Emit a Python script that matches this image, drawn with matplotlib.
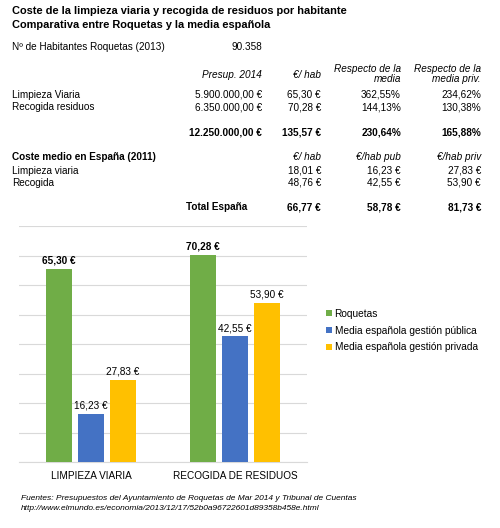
import numpy as np
import matplotlib.pyplot as plt

plt.rcParams['font.family'] = ['Liberation Sans', 'DejaVu Sans']

# chart data
categorias = ["LIMPIEZA VIARIA", "RECOGIDA DE RESIDUOS"]
series = ["Roquetas", "Media española gestión pública", "Media española gestión privada"]
roquetas = [65.30, 70.28]
media_pub = [16.23, 42.55]
media_priv = [27.83, 53.90]
colores = ["#70AD47", "#4472C4", "#FFC000"]

# table data
habitantes = "90.358"
cab_roq = ["Presup. 2014", "€/ hab", "Respecto de la\nmedia", "Respecto de la\nmedia priv."]
filas_roq = ["Limpieza Viaria", "Recogida residuos"]
presup = ["5.900.000,00 €", "6.350.000,00 €"]
hab = ["65,30 €", "70,28 €"]
resp_media = ["362,55%", "144,13%"]
resp_priv = ["234,62%", "130,38%"]
total_roq = ["12.250.000,00 €", "135,57 €", "230,64%", "165,88%"]
cab_esp = ["€/ hab", "€/hab pub", "€/hab priv"]
filas_esp = ["Limpieza viaria", "Recogida"]
esp_hab = ["18,01 €", "48,76 €"]
esp_pub = ["16,23 €", "42,55 €"]
esp_priv = ["27,83 €", "53,90 €"]
total_esp = ["66,77 €", "58,78 €", "81,73 €"]

W, H = 500, 528
FS = 7.2
fig = plt.figure(figsize=(W / 100, H / 100), dpi=100)


def t(x, y, s, **kw):
    # y = vertical centre of capitals in pixels from top; drawn on baseline
    kw.setdefault('fontsize', FS)
    kw.setdefault('va', 'baseline')
    fig.text(x / W, 1 - (y + 3.5) / H, s, **kw)


t(12, 10, "Coste de la limpieza viaria y recogida de residuos por habitante", fontweight='bold', fontsize=7.9)
t(12, 24, "Comparativa entre Roquetas y la media española", fontweight='bold', fontsize=7.9)
t(12, 46, "Nº de Habitantes Roquetas (2013)")
t(262, 46, habitantes, ha='right')

cols = [262, 321, 401, 481]
t(cols[0], 74, cab_roq[0], ha='right', style='italic')
t(cols[1], 74, cab_roq[1], ha='right', style='italic')
for x, s in zip(cols[2:], cab_roq[2:]):
    l1, l2 = s.split("\n")
    t(x, 69, l1, ha='right', style='italic')
    t(x, 79, l2, ha='right', style='italic')
for i, y in enumerate([94, 107]):
    t(12, y, filas_roq[i])
    for x, s in zip(cols, [presup[i], hab[i], resp_media[i], resp_priv[i]]):
        t(x, y, s, ha='right')
for x, s in zip(cols, total_roq):
    t(x, 132, s, ha='right', fontweight='bold')

t(12, 157, "Coste medio en España (2011)", fontweight='bold')
for x, s in zip(cols[1:], cab_esp):
    t(x, 157, s, ha='right', style='italic')
for i, y in enumerate([170, 182]):
    t(12, y, filas_esp[i])
    for x, s in zip(cols[1:], [esp_hab[i], esp_pub[i], esp_priv[i]]):
        t(x, y, s, ha='right')
t(247, 207, "Total España", ha='right', fontweight='bold')
for x, s in zip(cols[1:], total_esp):
    t(x, 207, s, ha='right', fontweight='bold')

# bar chart
ax = fig.add_axes([19 / W, 66 / H, 288 / W, 236 / H])
x = np.arange(len(categorias))
ancho = 0.177
desp = 0.222
for k, (vals, nombre, c) in enumerate(zip([roquetas, media_pub, media_priv], series, colores)):
    bars = ax.bar(x + (k - 1) * desp, vals, ancho, color=c, label=nombre, zorder=3)
    etiquetas = [f"{v:.2f} €".replace('.', ',') for v in vals]
    ax.bar_label(bars, labels=etiquetas, padding=2.5, fontsize=FS,
                 fontweight='bold' if k == 0 else 'normal')

ax.set_xlim(-0.5, 1.5)
ax.set_ylim(0, 80)
ax.set_yticks(np.arange(0, 81, 10))
ax.yaxis.grid(True, color='#D9D9D9', linewidth=0.8, zorder=0)
ax.tick_params(left=False, labelleft=False, bottom=False, labelsize=FS, pad=3)
ax.set_xticks(x)
ax.set_xticklabels(categorias)
for s in ['top', 'right', 'left']:
    ax.spines[s].set_visible(False)
ax.spines['bottom'].set_color('#D9D9D9')

fig.legend(loc='upper left', bbox_to_anchor=(326 / W, 1 - 309 / H), frameon=False,
           fontsize=7.3, handlelength=0.55, handleheight=0.55, handletextpad=0.3,
           labelspacing=0.65, borderaxespad=0, borderpad=0)

t(21, 496, "Fuentes: Presupuestos del Ayuntamiento de Roquetas de Mar 2014 y Tribunal de Cuentas",
  style='italic', fontsize=6)
t(21, 506, "http://www.elmundo.es/economia/2013/12/17/52b0a96722601d89358b458e.html",
  style='italic', fontsize=6)

fig.savefig("out.png", dpi=100)
